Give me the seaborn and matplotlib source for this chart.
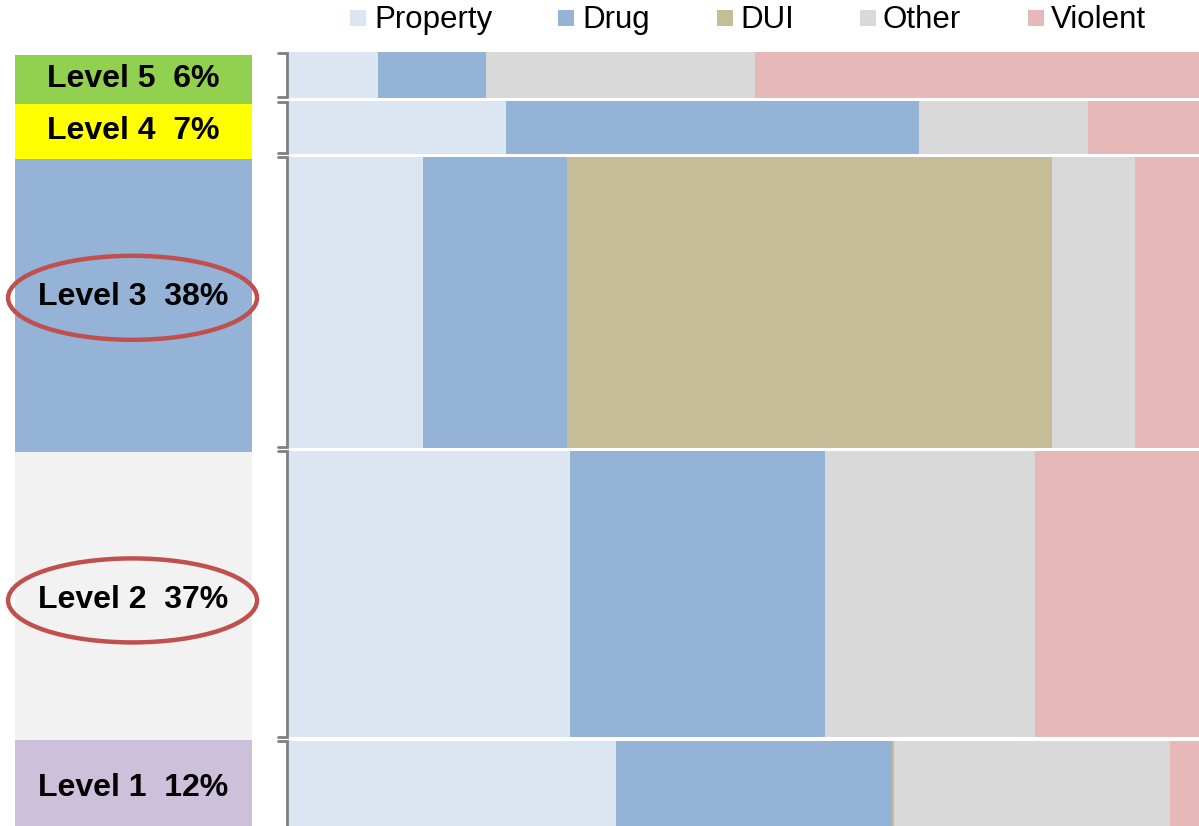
import numpy as np
import pandas as pd
import matplotlib
matplotlib.use("Agg")
import matplotlib.pyplot as plt
from matplotlib.patches import Ellipse, Rectangle
import seaborn as sns

# ---------------- data ----------------
levels = ["Level 5", "Level 4", "Level 3", "Level 2", "Level 1"]
level_share = [6, 7, 38, 37, 12]                 # labelled (rounded) shares
level_share_exact = [6.3, 7.2, 37.9, 37.3, 11.6]  # row heights
categories = ["Property", "Drug", "DUI", "Other", "Violent"]
property_pct = [9.8, 23.8, 14.7, 30.9, 35.9]
drug_pct = [11.9, 45.4, 15.9, 28.0, 30.4]
dui_pct = [0.0, 0.0, 53.2, 0.0, 0.2]
other_pct = [29.5, 18.6, 9.2, 23.1, 30.3]
violent_pct = [48.8, 12.2, 7.0, 18.0, 3.2]
highlighted = ["Level 3", "Level 2"]

cat_colors = ["#DCE6F2", "#95B3D7", "#C4BD97", "#D9D9D9", "#E6B9B8"]
level_colors = ["#92D050", "#FFFF00", "#95B3D7", "#F2F2F2", "#CCC0DA"]
label_nudge = [0.0, 0.0, -1.1, 0.5, 0.4]   # small vertical text nudges (layout)

df = pd.DataFrame({"level": levels, "label_share": level_share,
                   "share": level_share_exact,
                   "Property": property_pct, "Drug": drug_pct, "DUI": dui_pct,
                   "Other": other_pct, "Violent": violent_pct})
df["start"] = df["share"].cumsum() - df["share"]

# ---------------- figure ----------------
sns.set_theme(style="white")
plt.rcParams["font.family"] = ["Liberation Sans", "DejaVu Sans"]

W, H = 1199, 826
fig = plt.figure(figsize=(W / 100, H / 100), dpi=100)

def px_axes(x0, y0, x1, y1):
    return fig.add_axes([x0 / W, 1 - y1 / H, (x1 - x0) / W, (y1 - y0) / H])

# bar axes
PX_PER_PCT = 7.76
TOP = 50.5
ax = px_axes(289, TOP, 1199, H)
ax.set_xlim(0, 100)
ax.set_ylim((H - TOP) / PX_PER_PCT, 0)
gap = 0.45
for _, row in df.iterrows():
    left = 0.0
    y0 = row["start"] + gap / 2
    h = row["share"] - gap
    for cat, col in zip(categories, cat_colors):
        w = row[cat]
        if w > 0:
            ax.barh(y0, w, height=h, left=left, align="edge", color=col,
                    edgecolor="none", linewidth=0)
        left += w
    # bracket
    y1 = y0 + h
    xb = -0.25
    xt = -1.2
    ax.plot([xt, xb, xb, xt], [y0 + 0.05, y0 + 0.05, y1 - 0.05, y1 - 0.05],
            color="#808080", lw=2.0, clip_on=False, solid_joinstyle="miter")
ax.axis("off")

# level label axes
L_PX_PER_PCT = 7.72
L_TOP = 55
lax = px_axes(15, L_TOP, 252, H)
lax.set_xlim(0, 1)
lax.set_ylim((H - L_TOP) / L_PX_PER_PCT, 0)
for (_, row), col, nudge in zip(df.iterrows(), level_colors, label_nudge):
    lax.barh(row["start"], 1, height=row["share"], left=0, align="edge",
             color=col, edgecolor="none", linewidth=0)
    yc = row["start"] + row["share"] / 2 + nudge
    lax.text(0.5, yc, f"{row['level']}  {row['label_share']}%", ha="center",
             va="center", fontsize=23, fontweight="bold", color="black")
    if row["level"] in highlighted:
        e = Ellipse((0.496, yc + 0.1), width=249 / 237,
                    height=84 / L_PX_PER_PCT, facecolor="none",
                    edgecolor="#C0504D", lw=3.2, clip_on=False)
        lax.add_patch(e)
lax.axis("off")

# legend
leg_sq = [350, 558, 717, 860, 1028]
leg_tx = [374, 582, 740, 883, 1051]
for cat, col, sx, tx in zip(categories, cat_colors, leg_sq, leg_tx):
    fig.patches.append(Rectangle((sx / W, 1 - 26 / H), 16 / W, 16 / H,
                                 transform=fig.transFigure, facecolor=col,
                                 edgecolor="none"))
    fig.text(tx / W, 1 - 20 / H, cat, ha="left", va="center", fontsize=22.5,
             color="black")

fig.savefig("out.png", dpi=100, facecolor="white")
